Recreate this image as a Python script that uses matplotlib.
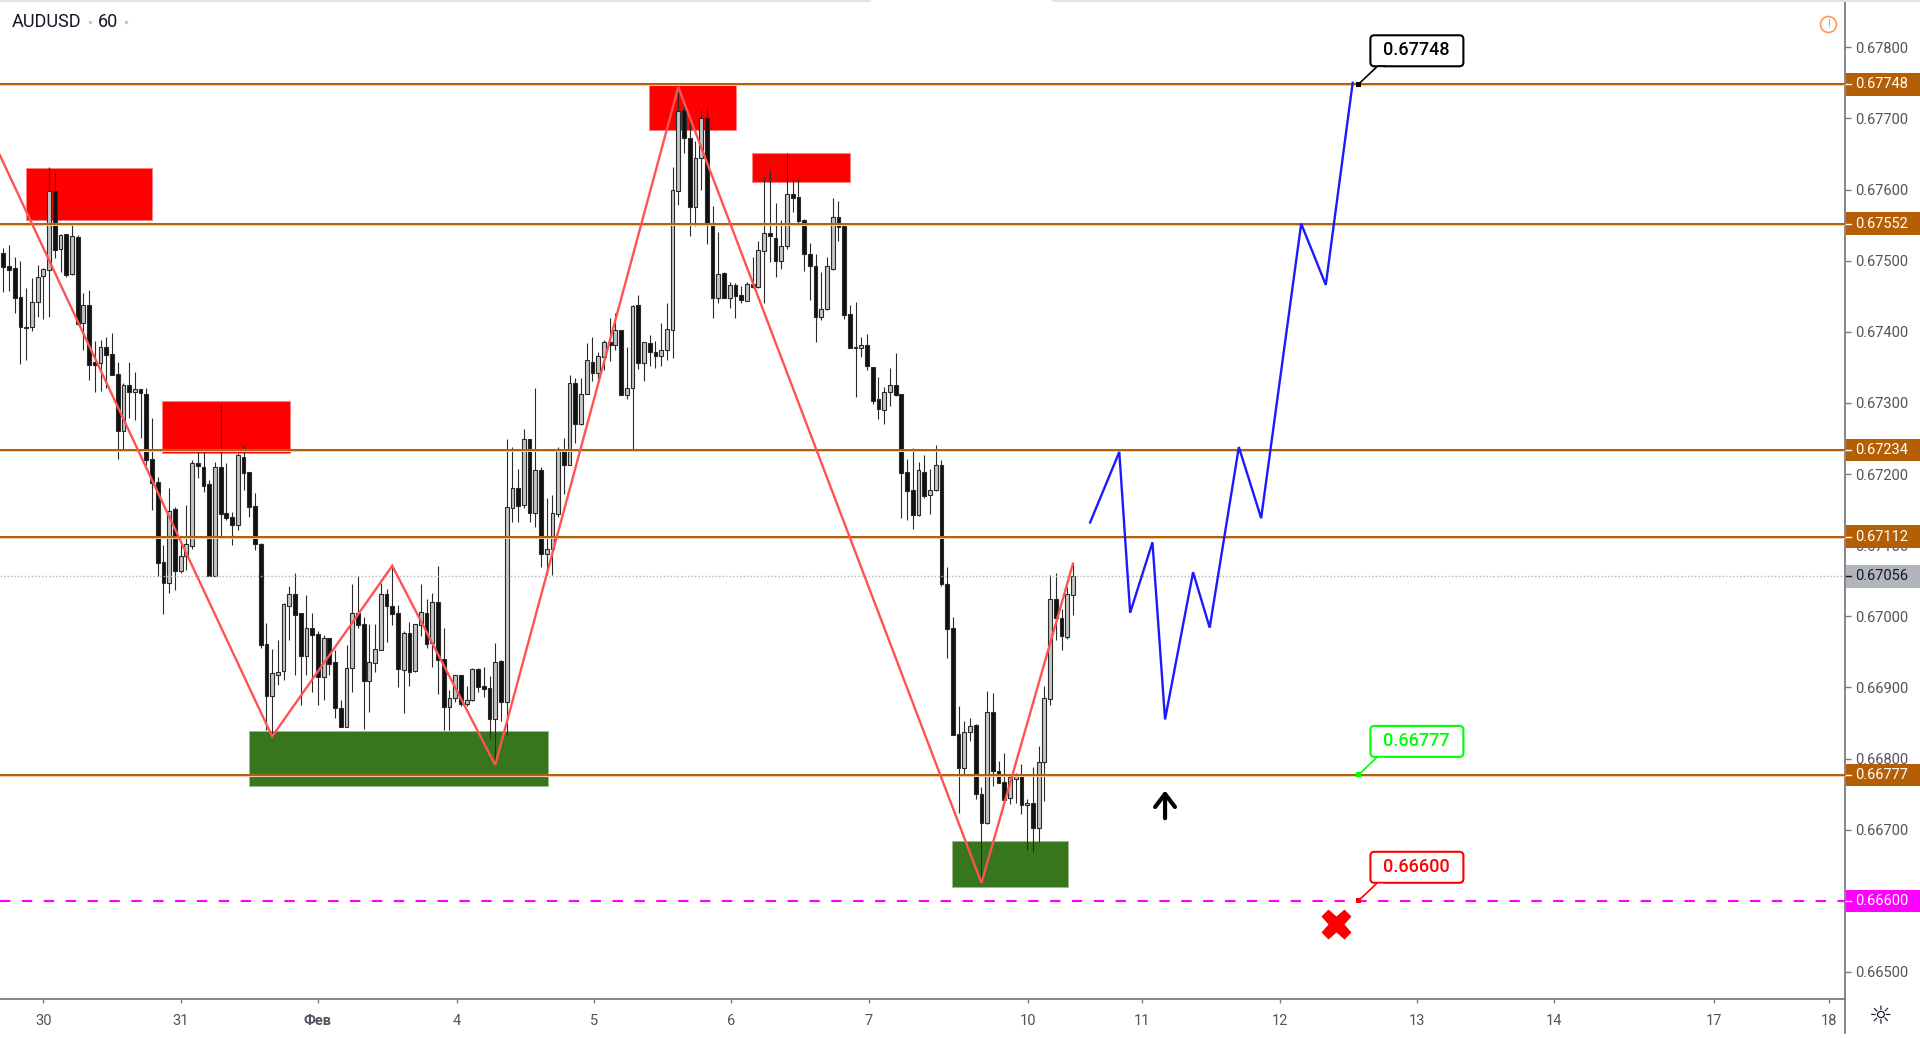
import matplotlib
matplotlib.use("Agg")
import matplotlib.pyplot as plt
import numpy as np
from matplotlib.lines import Line2D
from matplotlib.patches import FancyBboxPatch, Polygon, Rectangle
from matplotlib.transforms import Affine2D, blended_transform_factory

plt.rcParams['font.family'] = ['Roboto', 'DejaVu Sans']

# prices are in units of 0.00001
opens = [
    67511, 67492, 67489, 67449, 67407, 67407, 67442, 67479, 67487, 67598,
    67516, 67537, 67481, 67533, 67413, 67438, 67357, 67356, 67379, 67369,
    67341, 67261, 67325, 67315, 67319, 67312, 67221, 67189, 67077, 67047,
    67151, 67064, 67085, 67099, 67216, 67210, 67186, 67057, 67210, 67145,
    67140, 67128, 67224, 67203, 67155, 67102, 66961, 66888, 66917, 66923,
    67015, 67031, 67004, 66944, 66984, 66975, 66914, 66969, 66936, 66871,
    66844, 66928, 67004, 66989, 66909, 66935, 66952, 67031, 67015, 67005,
    66924, 66977, 66923, 66988, 67005, 66962, 67020, 66940, 66873, 66885,
    66917, 66876, 66882, 66926, 66902, 66899, 66856, 66937, 66880, 67152,
    67180, 67156, 67249, 67145, 67206, 67088, 67094, 67144, 67234, 67213,
    67328, 67270, 67313, 67358, 67342, 67365, 67385, 67382, 67403, 67311,
    67321, 67437, 67356, 67384, 67372, 67366, 67375, 67403, 67598, 67712,
    67673, 67576, 67645, 67701, 67552, 67447, 67482, 67447, 67466, 67452,
    67444, 67467, 67463, 67514, 67539, 67532, 67499, 67521, 67594, 67589,
    67557, 67509, 67493, 67421, 67432, 67488, 67562, 67549, 67425, 67378,
    67377, 67381, 67351, 67305, 67290, 67316, 67325, 67312, 67203, 67177,
    67142, 67203, 67170, 67177, 67213, 67046, 66983, 66835, 66787, 66837,
    66847, 66750, 66709, 66865, 66782, 66767, 66745, 66771, 66778, 66735,
    66738, 66703, 66795, 66884, 67025, 66997, 66971, 67030,
]
closes = [
    67491, 67487, 67448, 67407, 67406, 67442, 67477, 67488, 67598, 67515,
    67536, 67480, 67534, 67411, 67438, 67354, 67354, 67379, 67367, 67339,
    67261, 67325, 67315, 67320, 67314, 67220, 67188, 67075, 67047, 67148,
    67064, 67085, 67102, 67215, 67211, 67183, 67057, 67210, 67144, 67138,
    67128, 67227, 67202, 67153, 67102, 66960, 66888, 66920, 66922, 67017,
    67031, 67002, 66944, 66984, 66974, 66914, 66970, 66933, 66871, 66844,
    66928, 67004, 66988, 66909, 66936, 66954, 67031, 67014, 67003, 66926,
    66977, 66921, 66989, 67006, 66961, 67020, 66939, 66873, 66885, 66917,
    66877, 66882, 66926, 66901, 66898, 66856, 66936, 66880, 67154, 67180,
    67155, 67249, 67145, 67205, 67088, 67094, 67145, 67235, 67213, 67328,
    67270, 67312, 67360, 67342, 67366, 67385, 67382, 67402, 67311, 67321,
    67436, 67356, 67385, 67372, 67366, 67375, 67404, 67599, 67711, 67672,
    67576, 67645, 67701, 67552, 67447, 67481, 67447, 67466, 67451, 67445,
    67467, 67463, 67515, 67539, 67534, 67499, 67521, 67594, 67588, 67556,
    67509, 67493, 67421, 67432, 67492, 67562, 67548, 67424, 67377, 67377,
    67381, 67352, 67303, 67292, 67316, 67325, 67311, 67201, 67176, 67142,
    67206, 67169, 67177, 67213, 67045, 66982, 66833, 66787, 66838, 66846,
    66750, 66709, 66865, 66782, 66766, 66742, 66774, 66776, 66735, 66738,
    66703, 66795, 66885, 67025, 66997, 66972, 67031, 67056,
]
highs = [
    67518, 67522, 67505, 67500, 67462, 67476, 67494, 67490, 67631, 67624,
    67537, 67538, 67553, 67536, 67454, 67459, 67387, 67388, 67393, 67398,
    67357, 67328, 67358, 67344, 67320, 67321, 67279, 67196, 67100, 67180,
    67154, 67105, 67156, 67220, 67234, 67231, 67192, 67217, 67299, 67215,
    67147, 67229, 67241, 67203, 67174, 67103, 66991, 66954, 66967, 67018,
    67042, 67061, 67004, 67030, 67004, 66980, 66974, 66970, 66952, 66883,
    66960, 67045, 67056, 66999, 66989, 66989, 67047, 67039, 67071, 67016,
    66980, 66992, 66989, 67045, 67024, 67033, 67071, 66984, 66896, 66917,
    66917, 66902, 66928, 66928, 66929, 66916, 66963, 66939, 67249, 67238,
    67207, 67263, 67249, 67321, 67210, 67167, 67170, 67238, 67251, 67339,
    67335, 67335, 67384, 67392, 67372, 67388, 67420, 67427, 67403, 67379,
    67438, 67452, 67386, 67396, 67387, 67413, 67441, 67631, 67744, 67723,
    67699, 67668, 67712, 67716, 67577, 67541, 67484, 67470, 67468, 67464,
    67470, 67505, 67527, 67618, 67627, 67581, 67557, 67651, 67613, 67615,
    67559, 67525, 67510, 67484, 67505, 67588, 67584, 67550, 67438, 67442,
    67393, 67397, 67351, 67336, 67323, 67349, 67370, 67312, 67221, 67237,
    67217, 67227, 67207, 67241, 67220, 67070, 66999, 66874, 66853, 66857,
    66848, 66760, 66895, 66892, 66796, 66808, 66778, 66779, 66793, 66743,
    66788, 66818, 66902, 67058, 67061, 67010, 67041, 67074,
]
lows = [
    67456, 67457, 67427, 67355, 67360, 67401, 67421, 67418, 67421, 67504,
    67484, 67477, 67480, 67410, 67375, 67332, 67315, 67317, 67321, 67339,
    67221, 67232, 67279, 67276, 67251, 67213, 67150, 67057, 67003, 67033,
    67037, 67061, 67065, 67094, 67195, 67175, 67056, 67056, 67110, 67135,
    67100, 67121, 67177, 67139, 67093, 66955, 66840, 66831, 66903, 66911,
    66967, 66917, 66875, 66918, 66894, 66875, 66882, 66917, 66857, 66844,
    66844, 66893, 66984, 66841, 66866, 66921, 66952, 66964, 66988, 66901,
    66864, 66902, 66922, 66972, 66956, 66929, 66891, 66840, 66840, 66880,
    66874, 66874, 66881, 66894, 66886, 66827, 66791, 66853, 66833, 67132,
    67132, 67152, 67132, 67125, 67069, 67058, 67058, 67139, 67172, 67213,
    67244, 67269, 67312, 67331, 67328, 67346, 67359, 67375, 67311, 67305,
    67235, 67347, 67331, 67352, 67349, 67352, 67360, 67363, 67578, 67652,
    67535, 67549, 67599, 67524, 67419, 67440, 67447, 67433, 67420, 67440,
    67443, 67462, 67462, 67441, 67498, 67477, 67488, 67516, 67569, 67553,
    67485, 67445, 67385, 67416, 67431, 67487, 67528, 67418, 67377, 67308,
    67364, 67346, 67299, 67278, 67271, 67296, 67310, 67138, 67135, 67123,
    67141, 67167, 67144, 67176, 67042, 66942, 66833, 66724, 66775, 66824,
    66743, 66625, 66708, 66761, 66765, 66739, 66736, 66738, 66722, 66672,
    66668, 66682, 66741, 66875, 66966, 66953, 66968, 67002,
]

zigzag_x = [-0.58, 47, 68, 86, 118, 171, 187]
zigzag_y = [67648, 66831, 67071, 66791, 67744, 66625, 67074]

forecast_x = [190, 195.1, 197, 200.9, 203.1, 208, 210.9, 216, 219.9, 226.9, 231.2, 235.9]
forecast_y = [67132, 67231, 67005, 67104, 66855, 67062, 66984, 67238, 67138, 67552, 67466, 67750]

# x0, x1, price low, price high
red_zones = [
    (3.97, 26.08, 67557, 67630),
    (27.83, 50.12, 67229, 67302),
    (112.94, 128.15, 67684, 67747),
    (130.83, 148.07, 67611, 67651),
]
green_zones = [
    (42.95, 95.14, 66762, 66839),
    (165.8, 186.2, 66620, 66684),
]

levels = [67748, 67552, 67234, 67112, 66777]
stop_level = 66600
last_price = 67056

y_ticks = [66500 + 100 * i for i in range(14)]
x_ticks = [7, 31, 55, 79.3, 103.2, 127.2, 151.3, 179.1, 199, 223.2, 247.2, 271.1, 299, 319.1]
x_labels = ['30', '31', 'Фев', '4', '5', '6', '7', '10', '11', '12', '13', '14', '17', '18']

callout_x = 236.9
callouts = [(67748, '0.67748', 'black'), (66777, '0.66777', '#00FF00'), (66600, '0.66600', '#FF0000')]

ORANGE = '#B45F06'
MAGENTA = '#FF00FF'
SCALE = 1e-5

fig = plt.figure(figsize=(19.2, 10.38), dpi=100)
ax = fig.add_axes([0, 38.7 / 1038, 1845 / 1920, 999.3 / 1038])
ax.set_xlim(-0.577, 321.97)
ax.set_ylim(66461.5 * SCALE, 67866.5 * SCALE)

for x0, x1, y0, y1 in red_zones:
    ax.add_patch(Rectangle((x0, y0 * SCALE), x1 - x0, (y1 - y0) * SCALE,
                           fc='#FF0000', ec='#FF8080', lw=0.7, zorder=1))
for x0, x1, y0, y1 in green_zones:
    ax.add_patch(Rectangle((x0, y0 * SCALE), x1 - x0, (y1 - y0) * SCALE,
                           fc='#38761D', ec='#9DBB8E', lw=0.7, zorder=1))

o = np.array(opens) * SCALE
c = np.array(closes) * SCALE
h = np.array(highs) * SCALE
l = np.array(lows) * SCALE
bars = np.arange(len(o))
up = c >= o

ax.vlines(bars, l, h, color='#2a2a2a', lw=0.8, zorder=2)
ax.bar(bars, np.abs(c - o), bottom=np.minimum(o, c), width=0.66,
       color=np.where(up, '#C4C4C4', '#111111'), edgecolor='#2a2a2a', lw=0.8, zorder=2.1)

ax.axhline(last_price * SCALE, color='#B2B5BE', lw=1, ls=(0, (1, 1.5)), zorder=2.2)
for lev in levels:
    ax.axhline(lev * SCALE, color='#E9CDB0', lw=2.2, zorder=2.9)
    ax.axhline(lev * SCALE, color=ORANGE, lw=1.4, zorder=3)
ax.axhline(stop_level * SCALE, color=MAGENTA, lw=1.5, ls=(0, (5, 5.5)), zorder=3)

ax.plot(zigzag_x, np.array(zigzag_y) * SCALE, color='#FF5252', lw=1.7, zorder=3.2, solid_joinstyle='miter')
ax.plot(forecast_x, np.array(forecast_y) * SCALE, color='#1A1AFF', lw=1.7, zorder=3.2, solid_joinstyle='miter')

ax.annotate('', xy=(203.1, 66755 * SCALE), xytext=(203.1, 66716 * SCALE), zorder=3.5,
            arrowprops=dict(arrowstyle='->,head_length=0.55,head_width=0.42', color='black', lw=3,
                            mutation_scale=17, shrinkA=0, shrinkB=0))
ax.plot([233], [66568 * SCALE], marker='X', ms=22, color='#FF0000', mec='none', zorder=3.5)

# callouts are sized in pixels, anchored on the price level
for price, text, col in callouts:
    px, py = ax.transData.transform((callout_x, price * SCALE))
    tr = Affine2D().translate(px, py)
    ax.add_patch(FancyBboxPatch((12, 18), 93, 31, boxstyle='round,pad=0,rounding_size=4',
                                fc='white', ec=col, lw=1.5, transform=tr, zorder=6, clip_on=False))
    ax.add_patch(Polygon([(0, 0), (19, 18), (27.5, 18)], closed=False, fc='white', ec=col, lw=1.2,
                         transform=tr, zorder=6.1, clip_on=False))
    ax.add_patch(Rectangle((-2.5, -2.5), 5, 5, fc=col, ec='none', transform=tr, zorder=6.2, clip_on=False))
    ax.text(58, 34, text, color=col, fontsize=13, fontweight='medium', ha='center', va='center',
            transform=tr, zorder=6.3)

ax.spines['top'].set_visible(False)
ax.spines['left'].set_visible(False)
ax.spines['right'].set_color('#787B86')
ax.spines['bottom'].set_color('#787B86')
ax.spines['right'].set_linewidth(1.3)
ax.spines['bottom'].set_linewidth(1.3)

ax.yaxis.tick_right()
ax.set_yticks(np.array(y_ticks) * SCALE)
ax.set_yticklabels([f'{t * SCALE:.5f}' for t in y_ticks])
ax.tick_params(axis='y', length=4.3, width=1, color='#787B86', labelcolor='#50535E', labelsize=10.5, pad=3)
ax.set_xticks(x_ticks)
ax.set_xticklabels(x_labels)
ax.tick_params(axis='x', length=2.9, width=1, color='#787B86', labelcolor='#50535E', labelsize=10.5, pad=7.5)
ax.get_xticklabels()[2].set_fontweight('bold')

# price labels on the axis
tr_y = blended_transform_factory(ax.transAxes, ax.transData)
box_w = 75 / 1845
box_h = 31.6
price_boxes = [(lev, ORANGE, 'white') for lev in levels]
price_boxes += [(stop_level, MAGENTA, 'white'), (last_price, '#B2B5BE', '#131722')]
for price, col, txt_col in price_boxes:
    ax.add_patch(Rectangle((1.0006, (price - box_h / 2) * SCALE), box_w, box_h * SCALE, fc=col, ec='none',
                           transform=tr_y, zorder=5, clip_on=False))
    ax.add_line(Line2D([1.0006, 1 + 6 / 1845], [price * SCALE] * 2, color=txt_col, lw=1, transform=tr_y,
                       zorder=5.1, clip_on=False))
    ax.text(1 + 10 / 1845, price * SCALE, f'{price * SCALE:.5f}', color=txt_col, fontsize=10.5,
            va='center', ha='left', transform=tr_y, zorder=5.2)

# header and small chart furniture
fig.text(12 / 1920, 1 - 22 / 1038, 'AUDUSD', fontsize=13, color='#131722', va='center')
fig.text(98 / 1920, 1 - 22 / 1038, '60', fontsize=13, color='#131722', va='center')
for dot_x in (90, 126):
    fig.add_artist(Line2D([dot_x / 1920], [1 - 22 / 1038], marker='o', ms=2.5, color='#C4C7CF', mec='none'))

fig.add_artist(Line2D([1845 / 1920, 1845 / 1920], [1 - 1033 / 1038, 38.7 / 1038], color='#787B86', lw=1.3))
for x0, x1 in ((0, 870), (1053, 1920)):
    fig.add_artist(Line2D([x0 / 1920, x1 / 1920], [1 - 1 / 1038] * 2, color='#E0E3EB', lw=1.4))

fig.add_artist(Line2D([1828.4 / 1920], [1 - 24 / 1038], marker='o', ms=11.5, mfc='none', mec='#FF9850', mew=1.2))
fig.text(1828.4 / 1920, 1 - 24 / 1038, '!', fontsize=9, color='#FF9850', ha='center', va='center')
fig.text(1881 / 1920, 1 - 1017 / 1038, '☼', fontsize=19, color='#131722', ha='center', va='center',
         family='DejaVu Sans')

fig.savefig('out.png', dpi=100)
